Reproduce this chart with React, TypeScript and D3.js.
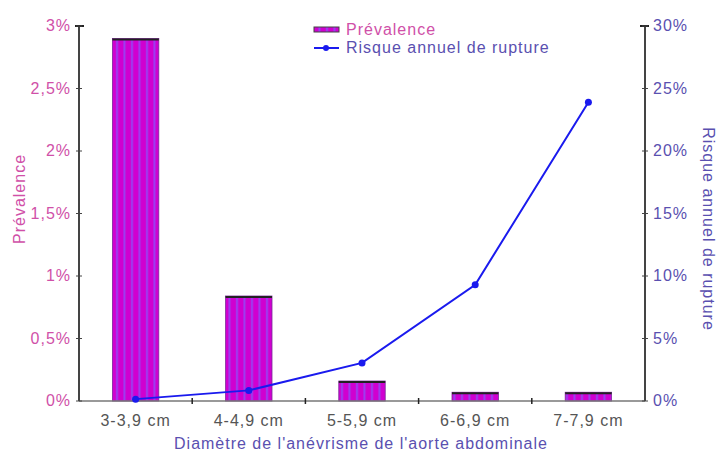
import React from "react";
import * as d3 from "d3";

const categories = ["3-3,9 cm", "4-4,9 cm", "5-5,9 cm", "6-6,9 cm", "7-7,9 cm"];
const prevalence = [2.9, 0.84, 0.16, 0.07, 0.07];
const rupture = [0.15, 0.85, 3.05, 9.3, 23.9];
const leftTicks = [0, 0.5, 1, 1.5, 2, 2.5, 3];
const leftTickLabels = ["0%", "0,5%", "1%", "1,5%", "2%", "2,5%", "3%"];
const rightTicks = [0, 5, 10, 15, 20, 25, 30];
const rightTickLabels = ["0%", "5%", "10%", "15%", "20%", "25%", "30%"];

const W = 718, H = 455;
const left = 79, right = 645, top = 26, bottom = 401;
const pink = "#d050a8";
const blueText = "#5a50b0";
const font = "'Liberation Sans', Arial, sans-serif";
const fs = 16;
const ls = 1;

export default function App() {
  const x = d3.scaleBand<string>().domain(categories).range([left, right]).paddingInner(0.59).paddingOuter(0.295);
  const yL = d3.scaleLinear().domain([0, 3]).range([bottom, top]);
  const yR = d3.scaleLinear().domain([0, 30]).range([bottom, top]);
  const step = x.step();
  const cx = (c: string) => (x(c) as number) + x.bandwidth() / 2;
  const line = d3.line<number>().x((_, i) => cx(categories[i])).y((d) => yR(d));
  const boundaries = categories.slice(1).map((c) => (x(c) as number) - (step - x.bandwidth()) / 2);

  return (
    <svg width={W} height={H} style={{ position: "absolute", left: 0, top: 0, background: "#fff" }}>
      <defs>
        <pattern id="stripes" patternUnits="userSpaceOnUse" width={7.5} height={10} x={113}>
          <rect width={7.5} height={10} fill="#d000d0" />
          <rect x={3} width={2} height={10} fill="#9a40f0" />
        </pattern>
      </defs>
      {prevalence.map((v, i) => (
        <g key={i}>
          <rect x={x(categories[i])} y={yL(v)} width={x.bandwidth()} height={bottom - yL(v)} fill="url(#stripes)" stroke="#7a2a9a" strokeWidth={0.8} />
          <line x1={x(categories[i])} x2={(x(categories[i]) as number) + x.bandwidth()} y1={yL(v) + 1} y2={yL(v) + 1} stroke="#222" strokeWidth={2} />
        </g>
      ))}
      <line x1={left} x2={right} y1={bottom} y2={bottom} stroke="#777" strokeWidth={1.5} />
      {boundaries.map((b, i) => (
        <line key={i} x1={b} x2={b} y1={bottom - 3} y2={bottom + 3} stroke="#222" strokeWidth={1.5} />
      ))}
      {categories.map((c) => (
        <text key={c} x={cx(c)} y={426} textAnchor="middle" fontFamily={font} fontSize={fs} letterSpacing={ls} fill="#555">{c}</text>
      ))}
      <text x={(left + right) / 2 - 1} y={449} textAnchor="middle" fontFamily={font} fontSize={fs} letterSpacing={ls} fill={blueText}>
        Diamètre de l'anévrisme de l'aorte abdominale
      </text>
      <line x1={left} x2={left} y1={top} y2={bottom} stroke="#444" strokeWidth={2} />
      <line x1={left - 4} x2={left + 5} y1={top} y2={top} stroke="#222" strokeWidth={2} />
      {leftTicks.map((t, i) => (
        <g key={i}>
          <line x1={left - 3} x2={left + 3} y1={yL(t)} y2={yL(t)} stroke="#444" strokeWidth={1} />
          <text x={71} y={yL(t) + 5} textAnchor="end" fontFamily={font} fontSize={fs} letterSpacing={ls} fill={pink}>{leftTickLabels[i]}</text>
        </g>
      ))}
      <text transform={`translate(25,199) rotate(-90)`} textAnchor="middle" fontFamily={font} fontSize={fs} letterSpacing={ls} fill={pink}>Prévalence</text>
      <line x1={right} x2={right} y1={top} y2={bottom} stroke="#444" strokeWidth={2} />
      <line x1={right - 5} x2={right + 4} y1={top} y2={top} stroke="#222" strokeWidth={2} />
      {rightTicks.map((t, i) => (
        <g key={i}>
          <line x1={right - 3} x2={right + 3} y1={yR(t)} y2={yR(t)} stroke="#444" strokeWidth={1} />
          <text x={653} y={yR(t) + 5} textAnchor="start" fontFamily={font} fontSize={fs} letterSpacing={ls} fill={blueText}>{rightTickLabels[i]}</text>
        </g>
      ))}
      <text transform={`translate(703,229) rotate(90)`} textAnchor="middle" fontFamily={font} fontSize={fs} letterSpacing={ls} fill={blueText}>Risque annuel de rupture</text>
      <path d={line(rupture) as string} fill="none" stroke="#1a1aee" strokeWidth={2} />
      {rupture.map((v, i) => (
        <circle key={i} cx={cx(categories[i])} cy={yR(v)} r={3.5} fill="#1a1aee" />
      ))}
      <rect x={314} y={27} width={25} height={5} fill="url(#stripes)" stroke="#444" strokeWidth={1} />
      <text x={346} y={35} fontFamily={font} fontSize={fs} letterSpacing={ls} fill={pink}>Prévalence</text>
      <line x1={314} x2={339} y1={48} y2={48} stroke="#1a1aee" strokeWidth={2} />
      <circle cx={326} cy={48} r={3} fill="#1a1aee" />
      <text x={346} y={53} fontFamily={font} fontSize={fs} letterSpacing={ls} fill={blueText}>Risque annuel de rupture</text>
    </svg>
  );
}
